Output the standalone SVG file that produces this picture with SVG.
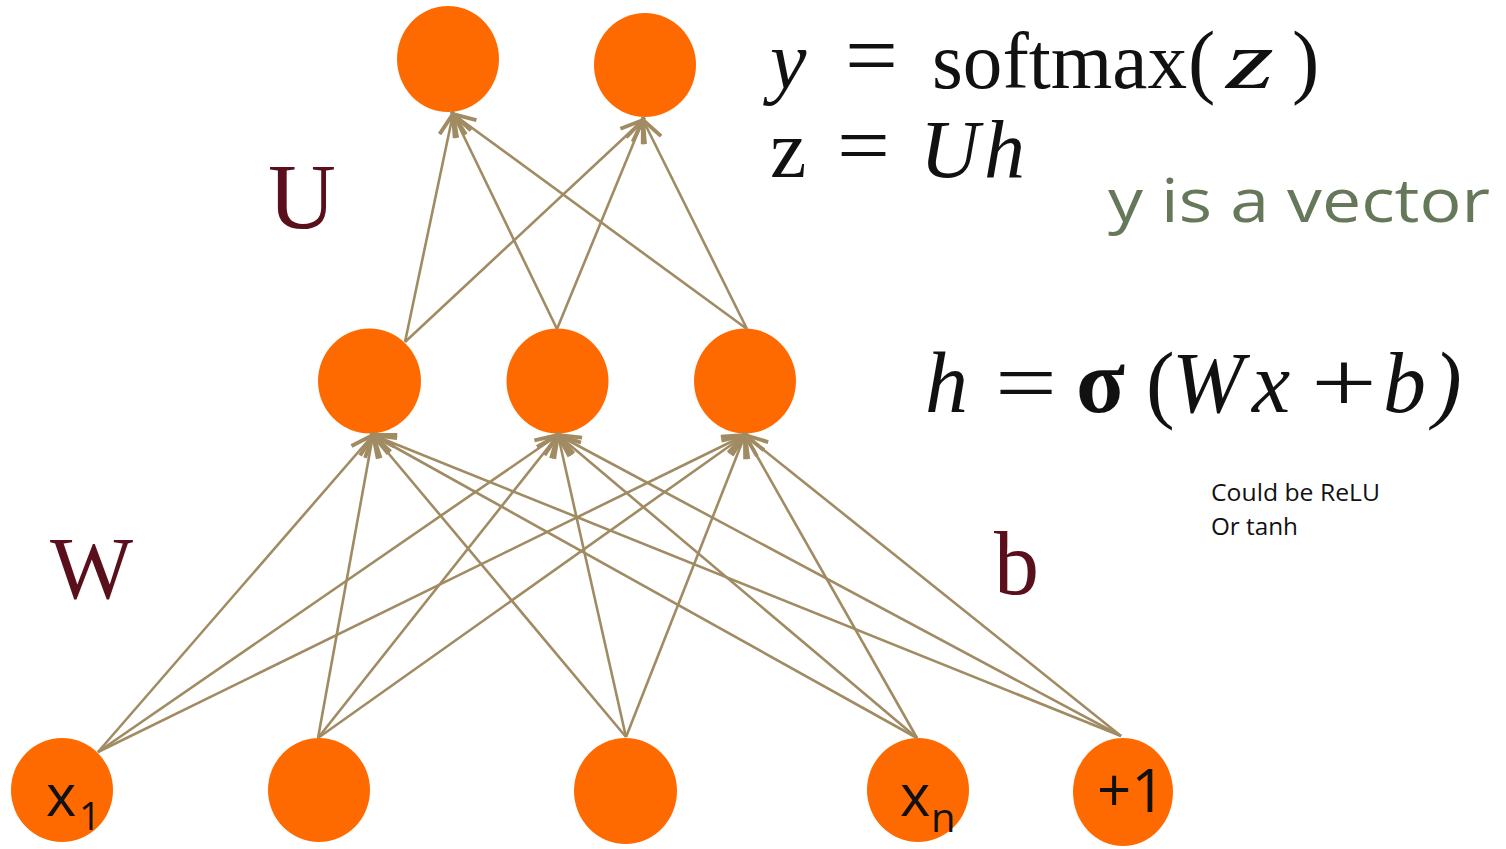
<svg xmlns="http://www.w3.org/2000/svg" width="1506" height="849" viewBox="0 0 1506 849">
<style>
.node{fill:#ff6a00}
.edge{stroke:#a08b63;stroke-width:2.6;fill:none;marker-end:url(#arr)}
.serif{font-family:"Liberation Serif","Times New Roman",serif}
.it{font-style:italic}
.mar{fill:#5a0f1c}
.blk{fill:#111}
.sans{font-family:"Open Sans","Liberation Sans",sans-serif}
</style>
<defs>
<marker id="arr" markerUnits="userSpaceOnUse" markerWidth="30" markerHeight="30" refX="0" refY="0" viewBox="-18 -10 20 20" orient="auto">
<path d="M-15,-6 L0,0 L-15,6" fill="none" stroke="#a08b63" stroke-width="2.6"/>
</marker>
</defs>
<rect width="1506" height="849" fill="#fff"/>
<g id="nodes">
<g id="out1"><ellipse class="node" cx="448" cy="59" rx="51" ry="53"/></g>
<g id="out2"><ellipse class="node" cx="645" cy="65" rx="51" ry="52"/></g>
<g id="hid1"><ellipse class="node" cx="369.5" cy="381" rx="51.5" ry="52.5"/></g>
<g id="hid2"><ellipse class="node" cx="557.5" cy="381" rx="51" ry="52.5"/></g>
<g id="hid3"><ellipse class="node" cx="745" cy="381" rx="51" ry="52.5"/></g>
<g id="in1"><ellipse class="node" cx="62" cy="790" rx="51" ry="52"/>
<text class="sans blk" x="46" y="816" font-size="58">x</text><text class="sans blk" x="79" y="830" font-size="38">1</text></g>
<g id="in2"><ellipse class="node" cx="319" cy="790" rx="51" ry="52"/></g>
<g id="in3"><ellipse class="node" cx="625.5" cy="791" rx="51.5" ry="53"/></g>
<g id="inn"><ellipse class="node" cx="918" cy="790" rx="51" ry="52"/>
<text class="sans blk" x="900" y="816" font-size="58">x</text><text class="sans blk" x="931" y="832" font-size="40">n</text></g>
<g id="bias"><ellipse class="node" cx="1123" cy="792" rx="50" ry="54"/>
<text class="sans blk" x="1097" y="812" font-size="60">+1</text></g>
</g>
<g id="connectors">
<line class="edge" x1="98" y1="752" x2="373" y2="435"/>
<line class="edge" x1="98" y1="752" x2="558" y2="435"/>
<line class="edge" x1="98" y1="752" x2="745" y2="435"/>
<line class="edge" x1="318" y1="738" x2="373" y2="435"/>
<line class="edge" x1="318" y1="738" x2="558" y2="435"/>
<line class="edge" x1="318" y1="738" x2="745" y2="435"/>
<line class="edge" x1="626" y1="737" x2="373" y2="435"/>
<line class="edge" x1="626" y1="737" x2="558" y2="435"/>
<line class="edge" x1="626" y1="737" x2="745" y2="435"/>
<line class="edge" x1="917" y1="738" x2="373" y2="435"/>
<line class="edge" x1="917" y1="738" x2="558" y2="435"/>
<line class="edge" x1="917" y1="738" x2="745" y2="435"/>
<line class="edge" x1="1121" y1="736" x2="373" y2="435"/>
<line class="edge" x1="1121" y1="736" x2="558" y2="435"/>
<line class="edge" x1="1121" y1="736" x2="745" y2="435"/>
<line class="edge" x1="405" y1="342" x2="453" y2="114"/>
<line class="edge" x1="557" y1="329" x2="453" y2="114"/>
<line class="edge" x1="747" y1="329" x2="453" y2="114"/>
<line class="edge" x1="405" y1="342" x2="643" y2="120"/>
<line class="edge" x1="557" y1="329" x2="643" y2="120"/>
<line class="edge" x1="747" y1="329" x2="643" y2="120"/>
</g>
<g id="labels">
<text class="serif mar" x="268" y="228" font-size="94">U</text>
<text class="serif mar" x="50" y="598" font-size="88">W</text>
<text class="serif mar" x="994" y="594" font-size="90">b</text>
<text class="serif blk it" font-size="82" x="770" y="88">y</text>
<text class="serif blk" font-size="90" x="845" y="86" textLength="53" lengthAdjust="spacingAndGlyphs">=</text>
<text class="serif blk" font-size="80" x="932" y="88" textLength="255" lengthAdjust="spacingAndGlyphs">softmax</text>
<text class="serif blk" font-size="82" x="1188" y="88">(</text>
<text class="serif blk it" font-size="82" x="1226" y="88" textLength="48" lengthAdjust="spacingAndGlyphs">z</text>
<text class="serif blk" font-size="82" x="1292" y="88">)</text>
<text class="serif blk" font-size="82" x="770" y="177">z</text>
<text class="serif blk" font-size="82" x="837" y="173" textLength="53" lengthAdjust="spacingAndGlyphs">=</text>
<text class="serif blk it" font-size="82" y="177"><tspan x="920">U</tspan><tspan x="984">h</tspan></text>
<text class="sans" fill="#66785a" font-size="61" x="1108" y="222" textLength="382" lengthAdjust="spacingAndGlyphs">y is a vector</text>
<text class="serif blk it" font-size="86" x="925" y="412">h</text>
<text class="serif blk" font-size="86" x="995" y="412" textLength="62" lengthAdjust="spacingAndGlyphs">=</text>
<text class="serif blk" font-size="90" x="1076" y="412" font-weight="bold">σ</text>
<text class="serif blk" font-size="86" x="1146" y="412">(</text>
<text class="serif blk it" font-size="86" y="412"><tspan x="1172">W</tspan><tspan x="1252">x</tspan></text>
<text class="serif blk" font-size="86" x="1311" y="412" textLength="66" lengthAdjust="spacingAndGlyphs">+</text>
<text class="serif blk it" font-size="86" y="412"><tspan x="1383">b</tspan><tspan x="1433">)</tspan></text>
<text class="sans blk" font-size="23" x="1211" y="501" textLength="169" lengthAdjust="spacingAndGlyphs">Could be ReLU</text>
<text class="sans blk" font-size="23" x="1211" y="535" textLength="87" lengthAdjust="spacingAndGlyphs">Or tanh</text>
</g>
</svg>
